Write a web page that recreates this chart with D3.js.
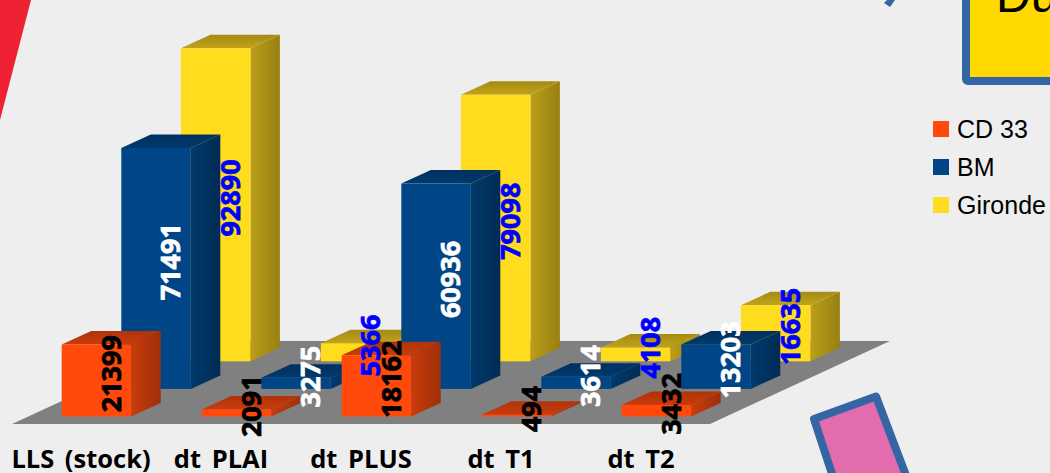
<!DOCTYPE html>
<html><head><meta charset="utf-8">
<script src="https://cdn.jsdelivr.net/npm/d3@7/dist/d3.min.js"></script>
<style>html,body{margin:0;padding:0;background:#eeeeee;overflow:hidden}svg{display:block}</style>
</head><body><svg id="c" width="1050" height="473"></svg>
<script>
const categories = ["LLS (stock)", "dt PLAI", "dt PLUS", "dt T1", "dt T2"];
const seriesNames = ["CD 33", "BM", "Gironde"];
const cd33 = [21399, 2091, 18162, 494, 3432];
const bm = [71491, 3275, 60936, 3614, 13203];
const gironde = [92890, 5366, 79098, 4108, 16635];
const colors = ["#ff4a0b", "#004586", "#ffdc1e"];
const sideA = ["#c83c0c", "#003a6c", "#bc9e18"];
const sideB = ["#a02e08", "#002c54", "#987f12"];
const topA = ["#c83c0c", "#003a6c", "#c0a21a"];
const topB = ["#b03408", "#003060", "#a68b14"];
const labelColors = ["#000000", "#ffffff", "#0000ff"];
const allSeries = [cd33, bm, gironde];

const W = 1050, H = 473;
const svg = d3.select("#c");
const defs = svg.append("defs");
colors.forEach((c, i) => {
  const s = defs.append("linearGradient").attr("id", "side" + i);
  s.append("stop").attr("offset", 0).attr("stop-color", sideA[i]);
  s.append("stop").attr("offset", 1).attr("stop-color", sideB[i]);
  const t = defs.append("linearGradient").attr("id", "top" + i).attr("x1", 0).attr("x2", 0).attr("y1", 1).attr("y2", 0);
  t.append("stop").attr("offset", 0).attr("stop-color", topA[i]);
  t.append("stop").attr("offset", 1).attr("stop-color", topB[i]);
});

// background decoration
svg.append("rect").attr("width", W).attr("height", H).attr("fill", "#eeeeee");
svg.append("polygon").attr("points", "0,0 31,0 0,120").attr("fill", "#ee2233");
svg.append("polygon").attr("points", "884,3 890,7 895,0 887,0").attr("fill", "#3465a4");
svg.append("rect").attr("x", 966).attr("y", -30).attr("width", 120).attr("height", 111)
  .attr("rx", 2).attr("fill", "#ffd900").attr("stroke", "#3465a4").attr("stroke-width", 8);
svg.append("text").attr("x", 996).attr("y", 12).attr("font-family", "Liberation Sans")
  .attr("font-size", 48).attr("fill", "#000").text("Du");
svg.append("polygon").attr("points", "814,419 876,396.5 910,486 836,486")
  .attr("fill", "#e36cae").attr("stroke", "#3465a4").attr("stroke-width", 8).attr("stroke-linejoin", "round");

// scales: x along categories, d depth of series, y value height
const x = d3.scaleBand().domain(categories).range([0, 700]).paddingInner(0).paddingOuter(0);
const originX = 12, baseY = 416.5;
const barW = 69.5, dx = 29.5, dy = 13.5;
const depth = d3.scalePoint().domain(seriesNames).range([0, 2]);
const stepX = 59.6, stepY = 27.6;
const y = d3.scaleLinear().domain([0, 100000]).range([0, 337]);

const barLeft = (ci, si) => 61.7 + x(categories[ci]) + depth(seriesNames[si]) * stepX;
const barBase = si => baseY - depth(seriesNames[si]) * stepY;

// floor
const fl = [[originX, 424], [710, 424], [890, 341], [192, 341]];
svg.append("polygon").attr("points", fl.join(" ")).attr("fill", "#808080");

// bars, back to front
const barsG = svg.append("g");
[2, 1, 0].forEach(si => {
  allSeries[si].forEach((v, ci) => {
    const l = barLeft(ci, si), b = barBase(si), h = y(v), t = b - h, r = l + barW;
    const g = barsG.append("g");
    g.append("polygon").attr("points", [[r, b], [r + dx, b - dy], [r + dx, t - dy], [r, t]].join(" "))
      .attr("fill", `url(#side${si})`);
    g.append("polygon").attr("points", [[l, t], [r, t], [r + dx, t - dy], [l + dx, t - dy]].join(" "))
      .attr("fill", `url(#top${si})`);
    g.append("rect").attr("x", l).attr("y", t).attr("width", barW).attr("height", h).attr("fill", colors[si]);
  });
});

// value labels
const labG = svg.append("g").attr("font-family", "Open Sans").attr("font-weight", 700).attr("font-size", 27);
[0, 1, 2].forEach(si => {
  allSeries[si].forEach((v, ci) => {
    const cx = barLeft(ci, si) + (barW + dx) / 2 - 1;
    const cy = barBase(si) - y(v) / 2 - dy / 2;
    labG.append("text").attr("text-anchor", "middle").attr("dominant-baseline", "central")
      .attr("transform", `translate(${cx},${cy}) rotate(-90)`)
      .attr("fill", labelColors[si]).attr("stroke", labelColors[si]).attr("stroke-width", 0.7).text(v);
  });
});

// category labels
svg.append("g").selectAll("text").data(categories).join("text")
  .attr("x", d => 81 + x(d)).attr("y", 467.5)
  .attr("text-anchor", "middle").attr("font-family", "Open Sans").attr("font-weight", 700)
  .attr("font-size", 25.5).attr("word-spacing", 4).attr("fill", "#000").text(d => d);

// legend
const leg = svg.append("g").selectAll("g").data(seriesNames).join("g")
  .attr("transform", (d, i) => `translate(933,${121 + i * 38})`);
leg.append("rect").attr("width", 16).attr("height", 16).attr("fill", (d, i) => colors[i]);
leg.append("text").attr("x", 24).attr("y", 17).attr("font-family", "Liberation Sans")
  .attr("font-size", 25).attr("fill", "#000").text(d => d);
</script></body></html>
